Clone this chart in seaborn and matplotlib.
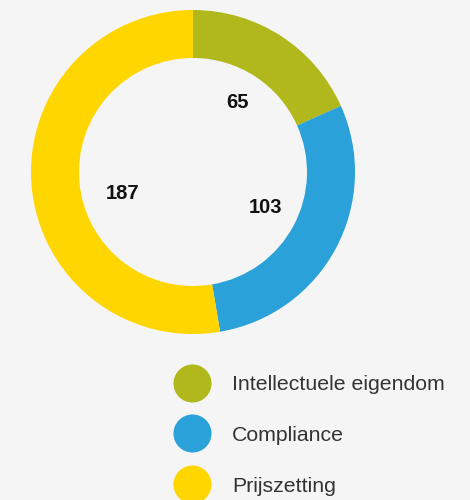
import numpy as np
import matplotlib
matplotlib.use("Agg")
import matplotlib.pyplot as plt
from matplotlib.lines import Line2D
import seaborn as sns

# ---- data ----
categories = ["Intellectuele eigendom", "Compliance", "Prijszetting"]
values = [65, 103, 187]
colors = ["#b1b81b", "#2aa1d8", "#ffd600"]

sns.set_theme(style="white")
plt.rcParams["font.family"] = ["Liberation Sans", "DejaVu Sans"]

BG = "#f5f5f5"
fig = plt.figure(figsize=(4.7, 5.0), dpi=100, facecolor=BG)
ax = fig.add_axes([0, 0, 1, 1])
ax.set_facecolor(BG)

cx, cy, R = 193, 328, 162
ring = 48
wedges, _ = ax.pie(values, colors=colors, startangle=90, counterclock=False,
                   center=(cx, cy), radius=R,
                   wedgeprops=dict(width=ring, edgecolor="none", linewidth=0))

# value labels inside the hole at each wedge's mid angle
lab_r = 81
nudges = [(0, 2), (1, 3), (10, -15)]
for w, v, (nx, ny) in zip(wedges, values, nudges):
    mid = np.deg2rad((w.theta1 + w.theta2) / 2)
    ax.text(cx + lab_r * np.cos(mid) + nx, cy + lab_r * np.sin(mid) + ny, str(v),
            ha="center", va="center", fontsize=14.5, fontweight="bold", color="#111111")

ax.set_xlim(0, 470)
ax.set_ylim(0, 500)
ax.set_aspect("equal")
ax.axis("off")

handles = [Line2D([], [], marker="o", ls="", markersize=27.4, color=c,
                  markeredgewidth=0) for c in colors]
leg = ax.legend(handles, categories, loc="upper left",
                bbox_to_anchor=(181.6 / 470, 1 - 375 / 500),
                bbox_transform=fig.transFigure, frameon=False,
                fontsize=15.3, handlelength=1.0, handletextpad=1.38,
                labelspacing=1.5, borderpad=0, borderaxespad=0)
for t in leg.get_texts():
    t.set_color("#333333")

fig.savefig("out.png", dpi=100, facecolor=BG)
